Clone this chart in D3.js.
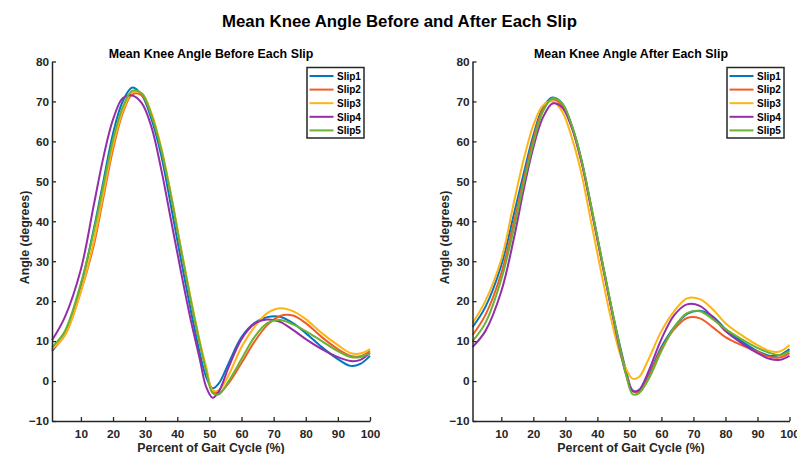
<!DOCTYPE html>
<html>
<head>
<meta charset="utf-8">
<script src="https://cdn.jsdelivr.net/npm/d3@7"></script>
<style>
  body { margin: 0; background: #fff; }
  svg { display: block; font-family: "Liberation Sans", Arial, sans-serif; }
  .axis path, .axis line { stroke: #262626; }
  .axis text { fill: #262626; font-weight: bold; font-size: 11.8px; }
</style>
</head>
<body>
<svg id="chart" width="797" height="454"></svg>
<script>
// Data (percent of gait cycle, knee angle in degrees)
var pct = [1, 5, 10, 14, 17, 20, 23, 26, 29, 32, 35, 38, 41, 44, 47, 49, 51, 53, 56, 60, 64, 68, 72, 76, 80, 85, 90, 94, 97, 100];
var slipNames = ["Slip1", "Slip2", "Slip3", "Slip4", "Slip5"];

// before each slip
var before1 = [7.5, 12, 24, 38, 50, 62, 70, 73.5, 71.5, 65.5, 56.5, 44, 31, 18.5, 7, 1, -1.8, -0.5, 4.5, 11, 14.5, 16, 16.1, 14.5, 12, 8.5, 5.5, 3.8, 4.3, 6.3];
var before2 = [8, 11.5, 22.5, 34, 46, 58, 67, 71.8, 71.5, 66.5, 58, 46.5, 33.5, 21, 9.5, 3, -2.5, -3, -0.5, 4.5, 9.8, 14, 16.3, 16.4, 14.5, 11, 8, 6.3, 6.2, 7.5];
var before3 = [8, 11.5, 22.5, 35, 47, 59, 67.5, 72.2, 72, 67, 58.5, 47, 34, 21.5, 10, 3.5, -2.3, -2.3, 1.5, 8.5, 13.5, 17, 18.2, 17.5, 15.5, 12, 9, 7, 6.9, 8];
var before4 = [10.2, 16, 28, 44, 56, 65.5, 70.8, 71.5, 69.5, 63.5, 53, 40.5, 28, 16, 5.5, -1.5, -4.2, -2.5, 3.5, 10.5, 14.3, 15.4, 14.8, 12.8, 10.5, 8, 6, 5, 5.3, 7];
var before5 = [8.5, 12.5, 24.5, 37.5, 49, 60.5, 68.5, 72.7, 72, 66.5, 58, 46.5, 33.5, 21, 9.5, 2.5, -3, -3.3, 0, 5.5, 11, 14.5, 15.3, 14.2, 12.5, 10, 7.5, 6, 6, 7];

// after each slip
var after1 = [13.5, 18.5, 29, 42, 52, 61.5, 68.5, 71, 69.5, 64, 55.5, 44, 32, 20, 9, 2.5, -2.3, -2.5, 1.5, 8.5, 13.5, 16.8, 17.6, 16.2, 13, 10, 7.5, 6.3, 6.5, 8];
var after2 = [11.5, 16.5, 27, 40, 50.5, 60.5, 68, 70.5, 69, 63.5, 55, 43.5, 31.5, 19.5, 8.5, 2, -2.5, -2.8, 1, 8, 13, 15.8, 15.7, 13.5, 11, 9, 7.3, 6, 5.9, 7];
var after3 = [14.5, 20, 30.5, 45, 55.5, 64, 69, 70, 67.5, 61, 52, 40, 28, 16.5, 7, 3, 0.6, 1, 5.5, 12.5, 17.5, 20.7, 20.5, 18, 14.5, 11.5, 9, 7.5, 7.4, 9];
var after4 = [8.5, 12.5, 22.5, 36, 48, 58.5, 66, 69.5, 68.5, 63.5, 55, 43.5, 31.5, 19.5, 8, 1.5, -2.5, -2.2, 2.5, 10.5, 16.5, 19.2, 18.8, 16, 12.5, 9.5, 7, 5.5, 5.3, 6.3];
var after5 = [10, 14.5, 25.5, 38.5, 49.5, 59.5, 67.5, 70.8, 69.5, 64, 55.5, 44, 32, 20, 8.5, 1.5, -3.3, -3, 0.5, 7.5, 13.5, 17, 17.5, 15.5, 13, 10.5, 8.3, 7, 6.5, 7.5];

var xTicks = [10, 20, 30, 40, 50, 60, 70, 80, 90, 100];
var yTicks = [-10, 0, 10, 20, 30, 40, 50, 60, 70, 80];

// Colors
var colors = ["#0077C0", "#F25C26", "#FDB515", "#962DA8", "#6AB232"];

var svg = d3.select("#chart");

// Main title
svg.append("text")
   .attr("x", 399.5)
   .attr("y", 27)
   .attr("text-anchor", "middle")
   .style("font-weight", "bold")
   .style("font-size", "16.8px")
   .style("fill", "#000")
   .text("Mean Knee Angle Before and After Each Slip");

function drawPanel(opts) {
  var xScale = d3.scaleLinear().domain([1, 100]).range([opts.left, opts.right]);
  var yScale = d3.scaleLinear().domain([-10, 80]).range([421, 61.5]);

  var g = svg.append("g");

  // subtitle
  g.append("text")
   .attr("x", (opts.left + opts.right) / 2)
   .attr("y", 57.5)
   .attr("text-anchor", "middle")
   .style("font-weight", "bold")
   .style("font-size", "12.4px")
   .style("fill", "#000")
   .text(opts.title);

  // lines
  var line = d3.line()
               .x(function(d) { return xScale(d[0]); })
               .y(function(d) { return yScale(d[1]); })
               .curve(d3.curveCatmullRom.alpha(0.5));
  opts.series.forEach(function(vals, i) {
    g.append("path")
     .datum(pct.map(function(p, j) { return [p, vals[j]]; }))
     .attr("fill", "none")
     .attr("stroke", colors[i])
     .attr("stroke-width", 2)
     .attr("d", line);
  });

  // axes (ticks pointing inward)
  var xAxis = d3.axisBottom(xScale).tickValues(xTicks).tickSizeInner(-4).tickSizeOuter(0).tickPadding(9);
  g.append("g")
   .attr("class", "axis")
   .attr("transform", "translate(0,421)")
   .call(xAxis)
   .call(function(s) { s.select(".domain").attr("stroke-width", 1.5); s.selectAll(".tick line").attr("stroke-width", 1.3); });

  var yAxis = d3.axisLeft(yScale).tickValues(yTicks).tickSizeInner(-4).tickSizeOuter(0).tickPadding(3);
  g.append("g")
   .attr("class", "axis")
   .attr("transform", "translate(" + opts.left + ",0)")
   .call(yAxis)
   .call(function(s) { s.select(".domain").attr("stroke-width", 1.5); s.selectAll(".tick line").attr("stroke-width", 1.3); });

  // axis labels
  g.append("text")
   .attr("x", (opts.left + opts.right) / 2)
   .attr("y", 452)
   .attr("text-anchor", "middle")
   .style("font-weight", "bold")
   .style("font-size", "12.4px")
   .style("fill", "#262626")
   .text("Percent of Gait Cycle (%)");
  g.append("text")
   .attr("transform", "translate(" + (opts.left - 23.5) + ",237.5) rotate(-90)")
   .attr("text-anchor", "middle")
   .style("font-weight", "bold")
   .style("font-size", "12.4px")
   .style("fill", "#262626")
   .text("Angle (degrees)");

  // legend
  var leg = g.append("g").attr("transform", "translate(" + opts.legX + ",67.5)");
  leg.append("rect")
     .attr("width", 57).attr("height", 70.5)
     .attr("fill", "#fff")
     .attr("stroke", "#262626")
     .attr("stroke-width", 1.5);
  slipNames.forEach(function(name, i) {
    var yy = 8.5 + i * 13.6;
    leg.append("line")
       .attr("x1", 2.5).attr("x2", 26.5)
       .attr("y1", yy).attr("y2", yy)
       .attr("stroke", colors[i])
       .attr("stroke-width", 2);
    leg.append("text")
       .attr("x", 30).attr("y", yy + 3.7)
       .style("font-weight", "bold")
       .style("font-size", "10px")
       .style("fill", "#000")
       .text(name);
  });
}

drawPanel({ left: 52, right: 370, legX: 307, title: "Mean Knee Angle Before Each Slip",
            series: [before1, before2, before3, before4, before5] });
drawPanel({ left: 472.5, right: 789.5, legX: 727, title: "Mean Knee Angle After Each Slip",
            series: [after1, after2, after3, after4, after5] });
</script>
</body>
</html>
